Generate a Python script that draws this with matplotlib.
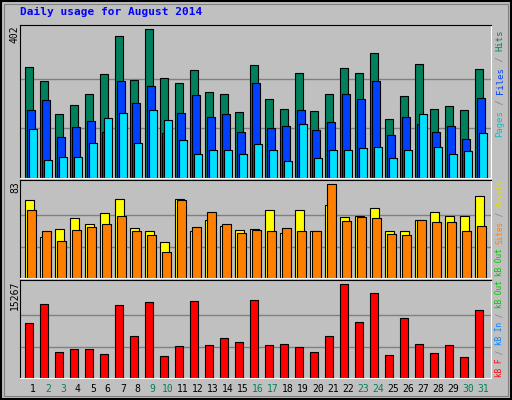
import matplotlib
matplotlib.use("Agg")
import matplotlib.pyplot as plt
import numpy as np

days = list(range(1, 32))
weekend_days = [2, 3, 9, 10, 16, 17, 23, 24, 30, 31]
hits = [301,263,173,197,227,282,384,266,402,271,257,293,233,227,178,306,214,186,285,181,227,298,285,339,159,222,309,186,195,184,296]
files = [184,211,110,137,154,124,263,203,249,121,176,225,165,173,124,257,135,140,184,129,151,227,214,263,116,165,146,124,140,105,216]
pages = [132,50,58,58,96,162,176,94,184,156,102,66,77,75,64,91,77,47,146,53,77,75,80,85,55,77,173,83,64,72,121]
visits = [69,36,43,53,48,57,70,44,41,32,70,41,51,46,42,43,60,40,60,41,64,54,55,62,41,41,51,58,55,55,72]
sites = [60,41,33,42,45,48,55,41,38,23,69,45,58,48,40,42,41,44,41,41,83,50,54,53,39,38,51,49,49,41,46]
kbytes = [8915,11924,4235,4736,4736,3900,11757,6742,12258,3566,5238,12426,5405,6408,5906,12593,5405,5572,5071,4235,6742,15267,9082,13763,3733,9751,5572,4068,5405,3399,11088]
max_hits = 402
max_visits = 83
max_kb = 15267

W, H = 512, 400
fig = plt.figure(figsize=(W/100, H/100), dpi=100, facecolor="#C0C0C0")
x = np.array(days, dtype=float)
ec = "black"
lw = 0.8

def fx(px): return px / W
def fy(py): return 1 - py / H

def mkax(top, bottom):
    ax = fig.add_axes([fx(20), fy(bottom), (491-20)/W, (bottom-top)/H])
    ax.set_facecolor("#C0C0C0")
    ax.set_xlim(1 - 0.35, 32.05)
    ax.set_xticks([]); ax.set_yticks([])
    for s in ("left", "top"):
        ax.spines[s].set_color("black")
    for s in ("right", "bottom"):
        ax.spines[s].set_color("white")
    return ax

ax1 = mkax(25, 178)
ax1.set_ylim(0, max_hits * 1.03)
for g in (max_hits/3, 2*max_hits/3):
    ax1.axhline(g, color="#808080", lw=1, zorder=0)
ax1.bar(x, hits, width=0.5, align="edge", color="#00805C", edgecolor=ec, linewidth=lw)
ax1.bar(x + 0.12, files, width=0.5, align="edge", color="#0040FF", edgecolor=ec, linewidth=lw)
ax1.bar(x + 0.25, pages, width=0.5, align="edge", color="#00E0FF", edgecolor=ec, linewidth=lw)

ax2 = mkax(180, 278)
ax2.set_ylim(0, max_visits * 1.04)
for g in (max_visits/3, 2*max_visits/3):
    ax2.axhline(g, color="#808080", lw=1, zorder=0)
ax2.bar(x, visits, width=0.55, align="edge", color="#FFFF00", edgecolor=ec, linewidth=lw)
ax2.bar(x + 0.12, sites, width=0.6, align="edge", color="#FF8000", edgecolor=ec, linewidth=lw)

ax3 = mkax(280, 378)
ax3.set_ylim(0, max_kb * 1.04)
for g in (max_kb/3, 2*max_kb/3):
    ax3.axhline(g, color="#808080", lw=1, zorder=0)
ax3.bar(x, kbytes, width=0.5, align="edge", color="#FF0000", edgecolor=ec, linewidth=lw)

mono = "DejaVu Sans Mono"
fig.text(fx(20), fy(12), "Daily usage for August 2014", color="#0000FF", family=mono,
         fontsize=8, fontweight="bold", va="center")

for d in days:
    col = "#00805C" if d in weekend_days else "black"
    px = 25.3 + (d - 1) * 15 + 7.5
    fig.text(fx(px), fy(389), str(d), color=col, family=mono, fontsize=7, ha="center", va="center")

fig.text(fx(15), fy(25), str(max_hits), rotation=90, family=mono, fontsize=7, ha="center", va="top")
fig.text(fx(15), fy(181), str(max_visits), rotation=90, family=mono, fontsize=7, ha="center", va="top")
fig.text(fx(15), fy(281), str(max_kb), rotation=90, family=mono, fontsize=7, ha="center", va="top")

def vlabel(pieces, ybottom, fs):
    cw = 0.602 * fs * 100 / 72
    y = ybottom
    for t, c in pieces:
        fig.text(fx(500), fy(y), t, rotation=90, family=mono, fontsize=fs, color=c,
                 ha="center", va="bottom")
        y -= cw * len(t)

vlabel([("Pages", "#00C0D0"), (" / ", "#808080"), ("Files", "#0040FF"), (" / ", "#808080"), ("Hits", "#00805C")], 137, 6.4)
vlabel([("kB Out", "#00C000"), (" ", "black"), ("Sites", "#FF8000"), (" / ", "#808080"), ("Visits", "#E0E000")], 276, 5.5)
vlabel([("kB F", "#FF0000"), (" / ", "#808080"), ("kB In", "#0080FF"), (" / ", "#808080"), ("kB Out", "#00C000")], 377, 5.5)

fig.patches.append(plt.Rectangle((0.002, 0.002), 0.996, 0.996, transform=fig.transFigure,
                                 fill=False, edgecolor="black", lw=1.5))
fig.patches.append(plt.Rectangle((fx(4), fy(396)), fx(504), (392)/H, transform=fig.transFigure,
                                 fill=False, edgecolor="#808080", lw=0.8))

fig.savefig("out.png", dpi=100, facecolor="#C0C0C0")
